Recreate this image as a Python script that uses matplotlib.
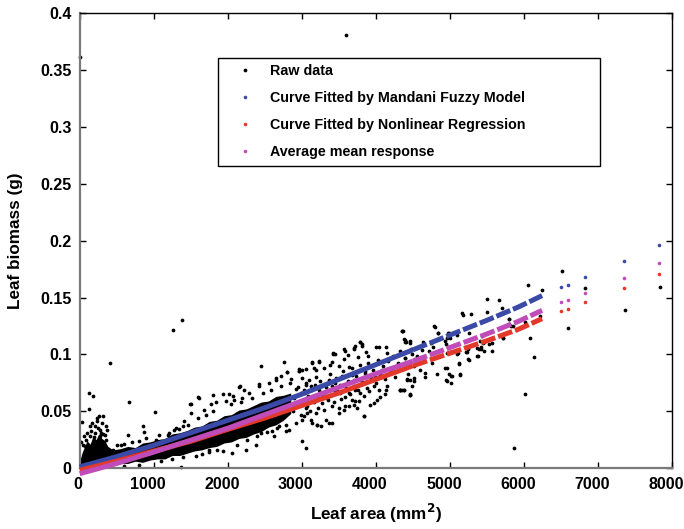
import matplotlib
matplotlib.use("Agg")
import matplotlib.pyplot as plt
from matplotlib.transforms import ScaledTranslation

plt.rcParams["font.family"] = ["Liberation Sans", "DejaVu Sans"]
plt.rcParams["font.weight"] = "bold"

# ---------------------------------------------------------------------------
# DATA
# ---------------------------------------------------------------------------
# saturated core of the raw-data cloud (where the dots merge into solid black)
core_x = [0, 30, 60, 100, 140, 180, 220, 260, 300, 340, 380, 450, 550, 650, 750, 850, 950,
          1050, 1150, 1250, 1350, 1450, 1550, 1650, 1750, 1850, 1950, 2050, 2150, 2250,
          2350, 2450, 2550, 2650, 2750, 2850]
core_hi = [0.006, 0.013, 0.018, 0.024, 0.021, 0.028, 0.025, 0.030, 0.026, 0.024, 0.019, 0.016,
           0.017, 0.019, 0.018, 0.022, 0.023, 0.025, 0.026, 0.030, 0.031, 0.033, 0.036, 0.037,
           0.041, 0.042, 0.046, 0.047, 0.051, 0.052, 0.055, 0.058, 0.059, 0.063, 0.064, 0.066]
core_lo = [0.0, 0.0, 0.0, 0.0, 0.0, 0.001, 0.001, 0.002, 0.002, 0.003, 0.003, 0.002, 0.004,
           0.004, 0.006, 0.005, 0.007, 0.008, 0.008, 0.011, 0.011, 0.013, 0.015, 0.016, 0.018,
           0.019, 0.022, 0.023, 0.026, 0.027, 0.030, 0.032, 0.036, 0.038, 0.042, 0.048]

# individual raw data points around / beyond the core
raw_x = [
    10, 3593, 404, 1265, 1382,
    126, 184, 121, 660, 1019, 853, 875, 651, 32, 14, 1369,
    314, 238, 359, 202, 373, 269, 292, 337,
    1494, 1503, 1413, 1458, 1279, 1346, 1189, 1077, 1032,
    90, 135, 68, 449, 561, 1795, 1508, 1606,
    2445, 2759, 2803, 2960, 2153, 2422, 1929, 2018, 1592, 1682, 1772, 1839,
    1973, 2086, 2198, 2557, 2655, 2714, 2848, 3005, 3050, 2916,
    2445, 2624, 2826, 3005, 3050, 1749, 1929, 2063, 2243, 2377, 1570,
    4800, 4352, 4845, 3791, 3724, 3813, 2163, 2064, 3845, 4464, 4352, 4329,
    3141, 3230, 3423, 3567, 3701, 2647, 2804, 2961, 3051, 3163, 2423, 2288, 2221,
    2468, 2602, 2692, 2782, 2916, 3118, 3208, 3320, 3410, 3589, 3724, 3499,
    2198, 2288, 2109, 2019,
    4361, 4388, 4405, 3782, 3813, 3710, 4002, 4047, 4136, 4150, 3872, 3894,
    3423, 3454, 3589, 3620, 3760, 3410, 3387, 3230, 3140, 3297, 3006, 2961,
    3567, 3634, 3499, 3185, 3194, 3096, 3993, 4038, 4083, 3858, 3836, 3881,
    3544, 3679, 3701, 3365, 3454, 3410, 3051, 3118, 3028, 2983,
    3230, 3275, 3163, 3342, 3454, 3522, 3589, 3634, 3724, 3791, 3836, 3903,
    3970, 4038, 4060, 4015, 4150, 4136, 4118, 4419, 4509, 4486, 4329, 4374, 4464,
    3836, 3006, 3051, 3073, 3028, 3006, 3140, 3208, 3253, 3365,
    3185, 3297, 3410, 3499, 3567, 3634, 3701, 3746, 3679, 3768, 3925, 3970,
    5496, 5666, 5496, 5159, 5173, 5285, 5801, 5855, 4791, 4845, 4352,
    4374, 4455, 4464, 4397, 5258, 4989, 5406, 5464, 5563, 5419, 5720,
    4643, 4747, 4765, 4621, 4711, 5092, 5227, 5249, 5361, 5123,
    4957, 4989, 5025, 4957, 4823, 5137, 4666, 4666, 4531, 4756,
    4509, 4464, 4419, 4329, 4374, 4464, 4486, 4397, 5361, 5419, 4935, 4980,
    4980, 4957, 5002, 5706, 5800, 5823, 6056, 6245, 6011, 6213, 6079, 6132,
    6011, 5859, 6514, 6828, 6595, 7362, 7837,
    4944, 4957, 5002, 4935, 4944, 5015, 5015, 5137, 5128,
    5092, 5105, 5217, 5258, 5249, 5374, 5392, 5451, 5460, 5531, 5572, 5428,
    5720, 5796,
    2880, 2900, 2930, 2950, 2990, 3020, 3040, 3070, 3090, 3110, 3130, 3160, 3180, 3200,
    3220, 3250, 3270, 3300, 3320, 3350, 3380, 3400, 3430, 3460, 3480, 3510, 3530, 3560,
    3600, 3620, 3650, 3680, 3700, 3730, 3760, 3790, 3810, 3850, 3880, 3900, 3930, 3960,
    4000, 4030, 4060, 4090, 4120, 4160, 4200, 4230, 4260, 4300, 4330, 4370, 4400, 4440,
    4480, 4520, 4560, 4600,
    2050, 2120, 2180, 2260, 2330, 2400, 2480, 2530, 2590, 2660, 2720, 2780, 2840,
    1600, 1700, 1800, 1650, 1750, 1850, 1200, 1300, 1400, 1100, 1250, 1400,
    900, 800, 700, 600, 500, 800, 600,
    60, 100, 150, 170, 210, 250, 280, 320, 350, 140, 230, 190, 40, 300, 260,
]
raw_y = [
    0.362, 0.381, 0.0926, 0.1217, 0.1305,
    0.0661, 0.0638, 0.052, 0.058, 0.0494, 0.0373, 0.0317, 0.0288, 0.0403, 0.0226, 0.0009,
    0.0456, 0.0412, 0.0367, 0.0367, 0.0332, 0.0338, 0.0309, 0.0294,
    0.0559, 0.0485, 0.0412, 0.0382, 0.0338, 0.0344, 0.0294, 0.0294, 0.025,
    0.025, 0.0279, 0.0191, 0.0162, 0.0206, 0.0646, 0.0567, 0.0617,
    0.0896, 0.0935, 0.0847, 0.0858, 0.0714, 0.0735, 0.0647, 0.0647, 0.0623, 0.0514, 0.0559, 0.058,
    0.0588, 0.0597, 0.0617, 0.075, 0.0773, 0.0808, 0.0779, 0.0794, 0.075, 0.0691,
    0.0309, 0.0285, 0.0338, 0.0235, 0.0176, 0.0162, 0.0147, 0.0132, 0.0162, 0.0206, 0.0103,
    0.1243, 0.1205, 0.119, 0.111, 0.1072, 0.1087, 0.072, 0.0631, 0.0455, 0.0655, 0.069, 0.0684,
    0.0925, 0.0931, 0.0999, 0.1043, 0.1058, 0.0793, 0.0849, 0.0867, 0.0873, 0.0881, 0.072, 0.0661, 0.069,
    0.0396, 0.0323, 0.0367, 0.0323, 0.0396, 0.0426, 0.0381, 0.0426, 0.0396, 0.0543, 0.0587, 0.0484,
    0.0293, 0.0323, 0.0279, 0.0323,
    0.1205, 0.1125, 0.111, 0.1113, 0.1072, 0.1049, 0.1066, 0.1066, 0.1066, 0.1013, 0.1019, 0.0984,
    0.1013, 0.0999, 0.1028, 0.0996, 0.0975, 0.0931, 0.091, 0.094, 0.0931, 0.0881, 0.0866, 0.0852,
    0.0955, 0.089, 0.0902, 0.086, 0.0802, 0.0778, 0.0802, 0.0843, 0.0866, 0.0852, 0.0802, 0.0763,
    0.0813, 0.0822, 0.0778, 0.0772, 0.0749, 0.072, 0.0734, 0.072, 0.069, 0.0661,
    0.069, 0.0646, 0.0631, 0.0617, 0.069, 0.0661, 0.0625, 0.0661, 0.069, 0.0661, 0.0631, 0.0675,
    0.072, 0.069, 0.0625, 0.0602, 0.072, 0.069, 0.0655, 0.0778, 0.0763, 0.072, 0.069, 0.0684, 0.0646,
    0.0455, 0.0558, 0.0528, 0.0484, 0.0455, 0.0425, 0.0396, 0.0381, 0.0372, 0.0396,
    0.0484, 0.0514, 0.0543, 0.0528, 0.0514, 0.0543, 0.0558, 0.0528, 0.0602, 0.0587, 0.0558, 0.0572,
    0.1484, 0.1475, 0.1375, 0.1367, 0.1343, 0.1352, 0.1308, 0.1249, 0.1249, 0.1184, 0.1205,
    0.1131, 0.1117, 0.1102, 0.1108, 0.119, 0.1184, 0.1117, 0.1108, 0.1102, 0.1067, 0.1146,
    0.1108, 0.1102, 0.1067, 0.1037, 0.1029, 0.0999, 0.1022, 0.0955, 0.0984, 0.0911,
    0.0881, 0.0823, 0.0808, 0.0764, 0.0823, 0.0823, 0.0837, 0.0802, 0.0955, 0.0925,
    0.0793, 0.0773, 0.0779, 0.069, 0.069, 0.0646, 0.1005, 0.097, 0.1058, 0.105, 0.1117, 0.1067,
    0.119, 0.1145, 0.1145, 0.1407, 0.1313, 0.1248, 0.1613, 0.1563, 0.1284, 0.1337, 0.1145, 0.0975,
    0.0652, 0.018, 0.1736, 0.1584, 0.1231, 0.1392, 0.159,
    0.1087, 0.1013, 0.1022, 0.0881, 0.0772, 0.0749, 0.0808, 0.0822, 0.0925,
    0.1172, 0.1013, 0.1019, 0.0949, 0.1043, 0.099, 0.1043, 0.1101, 0.1031, 0.1087, 0.1034, 0.116,
    0.1145, 0.1263,
    0.050, 0.062, 0.055, 0.071, 0.047, 0.060, 0.066, 0.055, 0.063, 0.050, 0.069, 0.058, 0.073, 0.062,
    0.053, 0.077, 0.057, 0.066, 0.071, 0.060, 0.083, 0.064, 0.058, 0.079, 0.068, 0.073, 0.061, 0.085,
    0.070, 0.077, 0.065, 0.088, 0.072, 0.081, 0.069, 0.091, 0.076, 0.084, 0.070, 0.092, 0.079, 0.086,
    0.075, 0.095, 0.082, 0.090, 0.078, 0.094, 0.085, 0.099, 0.080, 0.092, 0.103, 0.087, 0.097, 0.083,
    0.105, 0.090, 0.099, 0.086,
    0.056, 0.020, 0.058, 0.025, 0.062, 0.028, 0.066, 0.032, 0.069, 0.035, 0.072, 0.038, 0.075,
    0.044, 0.047, 0.050, 0.012, 0.014, 0.016, 0.031, 0.035, 0.037, 0.006, 0.008, 0.010,
    0.026, 0.024, 0.023, 0.021, 0.020, 0.003, 0.002,
    0.028, 0.031, 0.033, 0.040, 0.031, 0.035, 0.028, 0.030, 0.025, 0.037, 0.044, 0.027, 0.020, 0.040, 0.046,
]

# fitted curves, dense part (leaf areas covered by the data) ...
fit_x = [0, 500, 1000, 1500, 2000, 2500, 3000, 3500, 4000, 4500, 5000, 5500, 5922, 6245]
fuzzy_y = [0.001, 0.010, 0.020, 0.031, 0.042, 0.053, 0.065, 0.078, 0.091, 0.104, 0.117, 0.130, 0.1416, 0.1517]
regr_y = [-0.002, 0.006, 0.015, 0.0235, 0.034, 0.044, 0.055, 0.066, 0.078, 0.090, 0.101, 0.112, 0.122, 0.1314]
mean_y = [-0.005, 0.004, 0.014, 0.0245, 0.035, 0.047, 0.059, 0.071, 0.083, 0.094, 0.106, 0.118, 0.129, 0.1387]
# ... and the isolated large leaves
tail_x = [6505, 6590, 6820, 7353, 7828]
tail_fuzzy = [0.159, 0.161, 0.168, 0.1825, 0.196]
tail_regr = [0.138, 0.140, 0.1458, 0.158, 0.1705]
tail_mean = [0.1458, 0.1475, 0.1537, 0.1675, 0.180]

SPLIT = 9  # index in fit_x where the fitted curves turn dashed (sparse data)

x_ticks = [0, 1000, 2000, 3000, 4000, 5000, 6000, 7000, 8000]
y_ticks = [0, 0.05, 0.1, 0.15, 0.2, 0.25, 0.3, 0.35, 0.4]
y_tick_labels = ["0", "0.05", "0.1", "0.15", "0.2", "0.25", "0.3", "0.35", "0.4"]

BLUE = "#3b4aa6"
RED = "#e2392b"
MAGENTA = "#c04cb9"

# ---------------------------------------------------------------------------
# PLOT
# ---------------------------------------------------------------------------
fig = plt.figure(figsize=(6.84, 5.29), dpi=100)
ax = fig.add_axes([0.1165, 0.1153, 0.866, 0.8592])

ax.fill_between(core_x, core_lo, core_hi, color="black", lw=0, zorder=2)
ax.plot(raw_x, raw_y, "o", color="black", ms=2.7, mew=0, zorder=2,
        clip_on=False, label="Raw data")

LW = 3.6
for ys, tail, col, lab in [
    (fuzzy_y, tail_fuzzy, BLUE, "Curve Fitted by Mandani Fuzzy Model"),
    (regr_y, tail_regr, RED, "Curve Fitted by Nonlinear Regression"),
    (mean_y, tail_mean, MAGENTA, "Average mean response"),
]:
    ax.plot(fit_x[:SPLIT + 1], ys[:SPLIT + 1], "-", color=col, lw=LW,
            solid_capstyle="butt", clip_on=False, zorder=3)
    ax.plot(fit_x[SPLIT:], ys[SPLIT:], color=col, lw=LW, dashes=(3, 0.6),
            dash_capstyle="butt", zorder=3)
    ax.plot(tail_x, tail, "o", color=col, ms=2.6, mew=0, zorder=3, label=lab)

ax.set_xlim(0, 8000)
ax.set_ylim(0, 0.4)
ax.set_xticks(x_ticks)
ax.set_xticklabels([str(t) for t in x_ticks])
ax.set_yticks(y_ticks)
ax.set_yticklabels(y_tick_labels)
ax.tick_params(direction="in", length=4.5, width=1, top=True, right=True,
               labelsize=11.5)
ax.tick_params(axis="y", pad=6)
ax.tick_params(axis="x", pad=6.5)
for lbl in ax.get_xticklabels() + ax.get_yticklabels():
    lbl.set_fontweight("bold")
# the x tick labels in the original sit a few pixels left of their ticks
for i, lbl in enumerate(ax.get_xticklabels()):
    shift = -1.5 if i == 0 else -6
    lbl.set_transform(lbl.get_transform() + ScaledTranslation(shift / 100, 0, fig.dpi_scale_trans))

for side in ["left", "bottom"]:
    ax.spines[side].set_color("#7a7a7a")
    ax.spines[side].set_linewidth(1.6)
for side in ["top", "right"]:
    ax.spines[side].set_color("black")
    ax.spines[side].set_linewidth(1.0)

ax.set_xlabel("Leaf area (mm$^\\mathbf{2}$)", fontsize=12.3, fontweight="bold")
ax.set_ylabel("Leaf biomass (g)", fontsize=12.3, fontweight="bold")
ax.xaxis.set_label_coords(0.5, -0.075)
ax.yaxis.set_label_coords(-0.095, 0.5)

leg = ax.legend(loc="upper left", bbox_to_anchor=(0.233, 0.5, 0.645, 0.402),
                mode="expand", borderaxespad=0, fontsize=10.3, numpoints=1,
                handlelength=2.98, handletextpad=0.26, borderpad=0.45,
                labelspacing=0.9, fancybox=False, framealpha=1,
                edgecolor="black", markerscale=1.0)
leg.get_frame().set_linewidth(1.0)
for t in leg.get_texts():
    t.set_fontweight("bold")

fig.savefig("out.png", dpi=100)
